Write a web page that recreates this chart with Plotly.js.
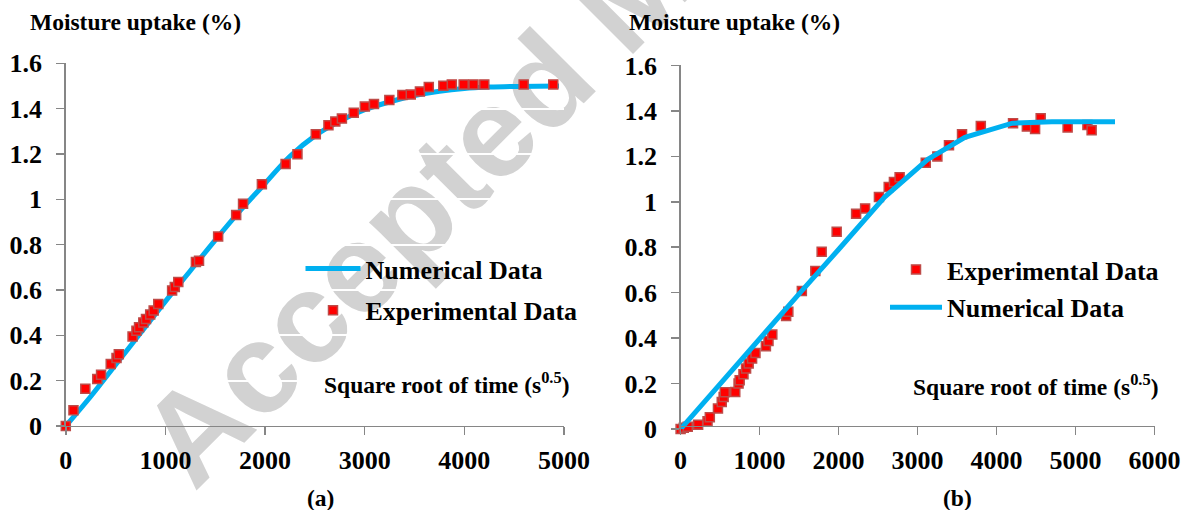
<!DOCTYPE html>
<html>
<head>
<meta charset="utf-8">
<script src="https://cdn.plot.ly/plotly-3.0.1.min.js"></script>
<style>html,body{margin:0;padding:0;background:#fff;}#chart{width:1187px;height:510px;}</style>
</head>
<body>
<div id="chart"></div>
<script>
// ---------- Data: panel (a) ----------
const expA_x = [0, 77, 196, 316, 354, 451, 509, 532, 670, 709, 735, 778, 805, 847, 882, 928, 1067, 1094, 1129, 1306, 1337,
  1529, 1710, 1779, 1968, 2206, 2325, 2509, 2636, 2705, 2771, 2890, 3001, 3093, 3247, 3378, 3462, 3554, 3643,
  3789, 3874, 3993, 4092, 4200, 4595, 4892];
const expA_y = [0, 0.069, 0.164, 0.207, 0.226, 0.273, 0.300, 0.317, 0.395, 0.420, 0.436, 0.457, 0.472, 0.492, 0.510, 0.538, 0.598, 0.613, 0.635, 0.723, 0.729,
  0.836, 0.931, 0.980, 1.066, 1.156, 1.199, 1.287, 1.327, 1.343, 1.356, 1.382, 1.409, 1.421, 1.438, 1.460, 1.462, 1.476, 1.495,
  1.501, 1.507, 1.507, 1.507, 1.507, 1.507, 1.507];
const numA_x = [0, 250, 500, 750, 1000, 1250, 1500, 1750, 2000, 2250, 2500, 2750, 3000, 3250, 3500, 3750, 4000, 4250, 4500, 4950];
const numA_y = [0, 0.13, 0.27, 0.41, 0.55, 0.685, 0.82, 0.95, 1.07, 1.19, 1.28, 1.345, 1.395, 1.43, 1.458, 1.477, 1.489, 1.495, 1.498, 1.5];

// ---------- Data: panel (b) ----------
const expB_x = [0, 40, 90, 222, 341, 370, 473, 521, 545, 559, 692, 734, 748, 796, 829, 862, 905, 948, 1080, 1113, 1161, 1336, 1364, 1535, 1706,
  1786, 1976, 2222, 2336, 2511, 2635, 2701, 2773, 3104, 3251, 3398, 3563, 3801, 4209, 4384, 4488, 4559, 4900, 5151, 5204];
const expB_y = [0, 0.005, 0.01, 0.019, 0.034, 0.052, 0.090, 0.119, 0.141, 0.162, 0.163, 0.200, 0.215, 0.241, 0.266, 0.288, 0.310, 0.335, 0.364, 0.387, 0.416, 0.497, 0.516, 0.607, 0.696,
  0.780, 0.868, 0.948, 0.971, 1.021, 1.065, 1.087, 1.108, 1.172, 1.200, 1.249, 1.297, 1.334, 1.346, 1.331, 1.321, 1.368, 1.327, 1.338, 1.315];
const numB_x = [0, 500, 1000, 1500, 2000, 2580, 3130, 3600, 4200, 4700, 5500];
const numB_y = [0, 0.2, 0.4, 0.595, 0.79, 1.02, 1.187, 1.284, 1.346, 1.352, 1.352];

// ---------- Text ----------
const yTitle = "Moisture uptake (%)";
const xTitle = "Square root of time (s<sup>0.5</sup>)";
const nameNum = "Numerical Data";
const nameExp = "Experimental Data";
const panelLabels = ["(a)", "(b)"];
const watermark = "Accepted Manuscript";
const yTickVals = [0, 0.2, 0.4, 0.6, 0.8, 1, 1.2, 1.4, 1.6];
const yTickText = ["0", "0.2", "0.4", "0.6", "0.8", "1", "1.2", "1.4", "1.6"];

const serif = "Liberation Serif";
const lineColor = "#00B0F0";
const markerStyle = {symbol: "square", size: 9, color: "#FF0000", line: {color: "#BE4B48", width: 1.5}};

const traces = [
  {x: numA_x, y: numA_y, name: nameNum, mode: "lines", line: {color: lineColor, width: 5, shape: "spline"},
   xaxis: "x", yaxis: "y", legend: "legend", legendgroup: "a1", cliponaxis: false},
  {x: expA_x, y: expA_y, name: nameExp, mode: "markers", marker: markerStyle,
   xaxis: "x", yaxis: "y", legend: "legend", legendgroup: "a2", cliponaxis: false},
  {x: expB_x, y: expB_y, name: nameExp, mode: "markers", marker: markerStyle,
   xaxis: "x2", yaxis: "y2", legend: "legend2", legendgroup: "b1", cliponaxis: false},
  {x: numB_x, y: numB_y, name: nameNum, mode: "lines", line: {color: lineColor, width: 5},
   xaxis: "x2", yaxis: "y2", legend: "legend2", legendgroup: "b2", cliponaxis: false}
];

const tickFont = {family: serif, size: 26, color: "#000", weight: "bold"};
function xAx(domain, range, dtick) {
  return {domain: domain, range: range, dtick: dtick, tick0: 0, showline: true, linecolor: "#868686", linewidth: 1.5,
    ticks: "outside", ticklen: 8, tickcolor: "#868686", tickwidth: 1.5, showgrid: false, zeroline: false,
    tickfont: tickFont, ticklabelstandoff: 2, fixedrange: true};
}
function yAx(domain, anchor) {
  return {domain: domain, range: [0, 1.6], tickvals: yTickVals, ticktext: yTickText,
    showline: true, linecolor: "#868686", linewidth: 1.5,
    ticks: "outside", ticklen: 8, tickcolor: "#868686", tickwidth: 1.5, showgrid: true, gridcolor: "#FFFFFF", gridwidth: 2,
    zeroline: false, tickfont: tickFont, ticklabelstandoff: 9, anchor: anchor, fixedrange: true};
}

const legFont = {family: serif, size: 26, color: "#000", weight: "bold"};
const titleFont = {family: serif, size: 23.5, color: "#000", weight: "bold"};
const layout = {
  width: 1187, height: 510,
  margin: {l: 0, r: 0, t: 0, b: 0},
  paper_bgcolor: "#FFFFFF", plot_bgcolor: "rgba(0,0,0,0)",
  showlegend: true,
  xaxis: xAx([0.05543, 0.47515], [0, 5000], 1000),
  yaxis: yAx([0.16471, 0.87588], "x"),
  xaxis2: xAx([0.57338, 0.97262], [0, 6000], 1000),
  yaxis2: yAx([0.15882, 0.87157], "x2"),
  legend: {x: 300.5/1187, y: 1 - 245/510, xanchor: "left", yanchor: "top", bgcolor: "rgba(0,0,0,0)", font: legFont,
    traceorder: "grouped", itemwidth: 55, tracegroupgap: 5},
  legend2: {x: 885/1187, y: 1 - 246/510, xanchor: "left", yanchor: "top", bgcolor: "rgba(0,0,0,0)", font: legFont,
    traceorder: "grouped", itemwidth: 52, tracegroupgap: 1},
  annotations: [
    {text: yTitle, xref: "paper", yref: "paper", x: 28/1187, y: 1 - 22/510, xanchor: "left", yanchor: "middle", showarrow: false, font: titleFont},
    {text: yTitle, xref: "paper", yref: "paper", x: 627/1187, y: 1 - 22/510, xanchor: "left", yanchor: "middle", showarrow: false, font: titleFont},
    {text: xTitle, xref: "paper", yref: "paper", x: 572/1187, y: 1 - 382.5/510, xanchor: "right", yanchor: "middle", showarrow: false, font: titleFont},
    {text: xTitle, xref: "paper", yref: "paper", x: 1161/1187, y: 1 - 385/510, xanchor: "right", yanchor: "middle", showarrow: false, font: titleFont},
    {text: panelLabels[0], xref: "paper", yref: "paper", x: 320/1187, y: 1 - 498/510, xanchor: "center", yanchor: "middle", showarrow: false, font: titleFont},
    {text: panelLabels[1], xref: "paper", yref: "paper", x: 957/1187, y: 1 - 498/510, xanchor: "center", yanchor: "middle", showarrow: false, font: titleFont}
  ],
  shapes: [
    {type: "rect", xref: "paper", yref: "paper", x0: 0.5146, x1: 0.5166, y0: 1.0088, y1: 1.0108, layer: "below",
     line: {width: 0}, fillcolor: "rgba(0,0,0,0)",
     label: {text: watermark, textangle: -45, textposition: "middle center", xanchor: "center", yanchor: "middle",
       font: {family: "Liberation Sans", size: 128, color: "rgb(210,210,210)", weight: "bold"}}}
  ]
};

Plotly.newPlot("chart", traces, layout, {displayModeBar: false, staticPlot: true});
</script>
</body>
</html>
